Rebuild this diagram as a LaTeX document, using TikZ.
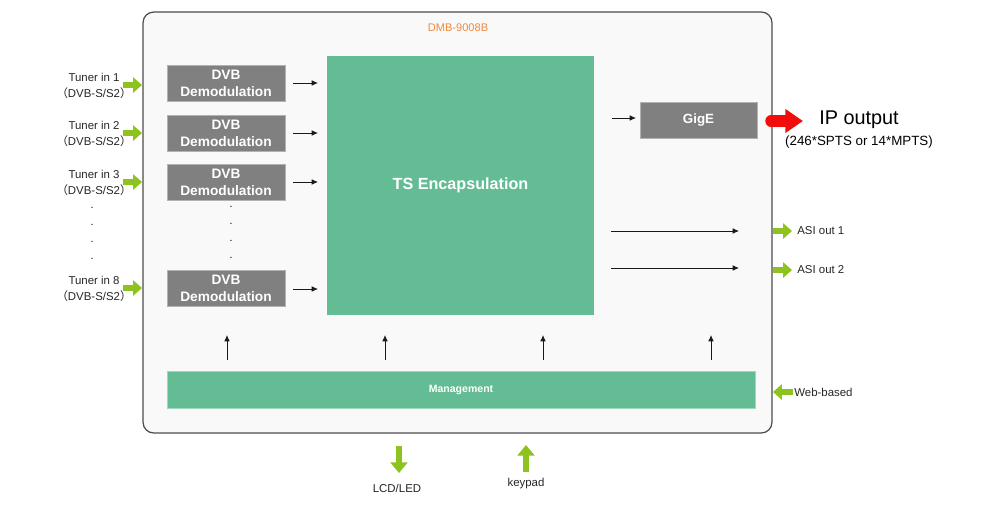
\documentclass[tikz,border=0pt]{standalone}
\usepackage{fontspec}
\setmainfont{Liberation Sans}
\newfontfamily\cjk{Noto Sans CJK SC}
\usetikzlibrary{arrows.meta}
\definecolor{bggray}{HTML}{F9F9F9}
\definecolor{tsgreen}{HTML}{63BC93}
\definecolor{boxgray}{HTML}{808080}
\definecolor{agreen}{HTML}{8DC21F}
\definecolor{torange}{HTML}{F08A3C}
\definecolor{ared}{HTML}{F20D0D}
\tikzset{
  demod/.style={draw=gray!60, fill=boxgray, text=white, font=\bfseries\fontsize{7.8}{9.6}\selectfont, minimum width=2.36cm, minimum height=0.72cm, inner sep=0pt, align=center},
  thinarrow/.style={draw=black!90, line width=0.45pt, -{Latex[length=3.6pt,width=3.2pt]}},
  garrow/.style={draw=agreen, line width=2.9pt, -{Triangle[length=5pt,width=8.5pt]}},
  bigg/.style={draw=agreen, line width=2.9pt, -{Triangle[length=6pt,width=9.5pt]}},
  lbl/.style={font=\fontsize{6.5}{7.5}\selectfont, inner sep=0pt, text=black!85},
  dotn/.style={font=\fontsize{6}{6}\selectfont, inner sep=0pt},
}
\begin{document}
\begin{tikzpicture}[x=0.02cm, y=-0.02cm]
\useasboundingbox[fill=white] (0,0) rectangle (1000,512);
% outer
\node[draw=black!70, line width=0.7pt, fill=bggray, rounded corners=6pt, minimum width=12.58cm, minimum height=8.42cm, inner sep=0pt] (dev) at (457.5,222.5) {};
\node[text=torange, font=\fontsize{6.3}{7}\selectfont] (title) at (458,28) {DMB-9008B};
% TS
\node[fill=tsgreen, minimum width=5.34cm, minimum height=5.18cm, inner sep=0pt, text=white, font=\bfseries\fontsize{9.2}{10}\selectfont] (ts) at (460.5,185.5) {TS Encapsulation};
% demod boxes
\node[demod] (d1) at (226,83) {DVB\\Demodulation};
\node[demod] (d2) at (226,133) {DVB\\Demodulation};
\node[demod] (d3) at (226,182) {DVB\\Demodulation};
\node[demod] (d8) at (226,288) {DVB\\Demodulation};
% dots
\foreach \yy [count=\i] in {207,224,241,258} {\node[dotn] (md\i) at (231,\yy) {.};}
\foreach \yy [count=\i] in {208,225,242,259} {\node[dotn] (ld\i) at (92,\yy) {.};}
% small arrows demod->ts
\coordinate (a1s) at (293,83); \coordinate (a1e) at (318,83);
\coordinate (a2s) at (293,133); \coordinate (a2e) at (318,133);
\coordinate (a3s) at (293,182); \coordinate (a3e) at (318,182);
\coordinate (a8s) at (293,289); \coordinate (a8e) at (318,289);
\foreach \k in {1,2,3,8} {\draw[thinarrow] (a\k s) -- (a\k e);}
% tuners
\foreach \yy/\n in {85/1,133/2,182/3,288/8} {
  \node[lbl, anchor=center] (tn\n) at (94,\yy-8) {Tuner in \n};
  \node[lbl, anchor=center] (ts\n) at (94,\yy+8) {{\cjk （}DVB-S/S2{\cjk ）}};
  \coordinate (tg\n s) at (123,\yy);
  \coordinate (tg\n e) at (142,\yy);
  \draw[garrow] (tg\n s) -- (tg\n e);
}
% GigE
\node[fill=boxgray, draw=gray!60, minimum width=2.34cm, minimum height=0.72cm, inner sep=0pt, text=white, font=\bfseries\fontsize{7.6}{8.6}\selectfont] (gige) at (698.5,120) {GigE};
\coordinate (gs) at (612,118); \coordinate (ge) at (636,118);
\draw[thinarrow] (gs) -- (ge);
% red arrow
\coordinate (rs) at (771,121); \coordinate (re) at (803,121);
\draw[draw=ared, line width=6.5pt, line cap=round, -{Triangle[length=10pt,width=13pt]}] (rs) -- (re);
\node[font=\fontsize{11.3}{12}\selectfont, inner sep=0pt] (ipo) at (859,120) {IP output};
\node[font=\fontsize{7.6}{8}\selectfont, inner sep=0pt] (ips) at (859,142) {(246*SPTS or 14*MPTS)};
% ASI
\coordinate (s1s) at (611,231); \coordinate (s1e) at (739,231);
\coordinate (s2s) at (611,268); \coordinate (s2e) at (739,268);
\draw[thinarrow] (s1s) -- (s1e);
\draw[thinarrow] (s2s) -- (s2e);
\coordinate (ga1s) at (773,231); \coordinate (ga1e) at (792,231);
\coordinate (ga2s) at (773,270); \coordinate (ga2e) at (792,270);
\draw[garrow] (ga1s) -- (ga1e);
\draw[garrow] (ga2s) -- (ga2e);
\node[lbl, anchor=west] (asi1) at (797,231) {ASI out 1};
\node[lbl, anchor=west] (asi2) at (797,270) {ASI out 2};
% management
\node[fill=tsgreen, draw=tsgreen!60, minimum width=11.76cm, minimum height=0.74cm, inner sep=0pt, text=white, font=\bfseries\fontsize{6}{6}\selectfont] (mgmt) at (461,389.5) {Management};
\foreach \xx [count=\i] in {227,385,543,711} {
  \coordinate (u\i s) at (\xx,360);
  \coordinate (u\i e) at (\xx,335);
  \draw[thinarrow] (u\i s) -- (u\i e);
}
% web-based
\coordinate (wbs) at (793,392); \coordinate (wbe) at (773,392);
\draw[garrow] (wbs) -- (wbe);
\node[lbl, anchor=west] (wb) at (794,392) {Web-based};
% LCD / keypad
\coordinate (lcs) at (399,446); \coordinate (lce) at (399,473);
\draw[bigg] (lcs) -- (lce);
\node[lbl] (lcd) at (397,488) {LCD/LED};
\coordinate (kps) at (526,472); \coordinate (kpe) at (526,445);
\draw[bigg] (kps) -- (kpe);
\node[lbl] (kp) at (526,484) {keypad};
\end{tikzpicture}
\end{document}
